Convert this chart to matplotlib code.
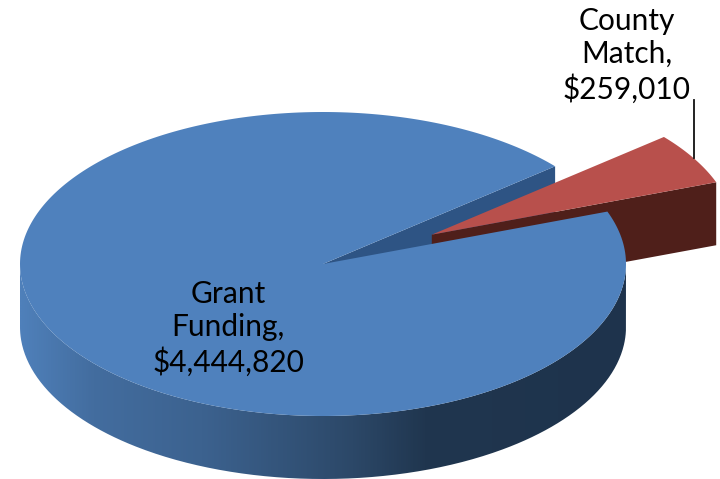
import numpy as np
import matplotlib
matplotlib.use("Agg")
import matplotlib.pyplot as plt
from matplotlib.colors import LinearSegmentedColormap
from matplotlib.patches import PathPatch, Polygon
from matplotlib.path import Path

# funding split
categories = ["Grant\nFunding", "County\nMatch"]
amounts = [4444820, 259010]

# pie geometry, in pixels
CX, CY = 323, 264
RX, RY = 303, 152
DEPTH = 63
START_ANGLE = 40
EXPLODE_X = 0.415
EXPLODE_Y = 0.385

plt.rcParams["font.family"] = ["Lato", "DejaVu Sans"]


def rim(theta_deg, ox=0.0, oy=0.0, drop=0.0):
    t = np.radians(theta_deg)
    return np.column_stack([CX + ox + RX * np.cos(t), CY + oy - RY * np.sin(t) + drop])


def wedge(a0, a1, ox=0.0, oy=0.0):
    arc = rim(np.linspace(a0, a1, 300), ox, oy)
    return np.vstack([[CX + ox, CY + oy], arc])


def wall(angle, ox=0.0, oy=0.0):
    # flat cut face running from the slice centre out to the rim
    p = rim(np.array([angle]), ox, oy)[0]
    c = np.array([CX + ox, CY + oy])
    return np.array([c, p, p + [0, DEPTH], c + [0, DEPTH]])


def fill_gradient(ax, verts, colors, stops, x0, x1, y0, y1, zorder):
    cmap = LinearSegmentedColormap.from_list("side", list(zip(stops, colors)))
    img = ax.imshow(np.linspace(0, 1, 512).reshape(1, -1), cmap=cmap, aspect="auto",
                    extent=[x0, x1, y1, y0], zorder=zorder, interpolation="bilinear")
    patch = PathPatch(Path(np.vstack([verts, verts[:1]])), transform=ax.transData,
                      facecolor="none", edgecolor="none")
    ax.add_patch(patch)
    img.set_clip_path(patch)


fig = plt.figure(figsize=(7.2, 4.79), dpi=100)
ax = fig.add_axes([0, 0, 1, 1])

sweep = 360 * amounts[1] / sum(amounts)
red_hi = START_ANGLE
red_lo = START_ANGLE - sweep
mid = np.radians((red_hi + red_lo) / 2)
ox = EXPLODE_X * RX * np.cos(mid)
oy = -EXPLODE_Y * RY * np.sin(mid)

# back to front: main cut face, red slice, then the main body over them
ax.add_patch(Polygon(wall(START_ANGLE), closed=True, fc="#2e5484", ec="none", zorder=1))
ax.add_patch(Polygon(wall(red_lo, ox, oy), closed=True, fc="#4f1f1a", ec="none", zorder=2))
ax.add_patch(Polygon(wedge(red_lo, red_hi, ox, oy), closed=True, fc="#b8504c", ec="none", zorder=3))

front = np.linspace(180, 360, 400)
side = np.vstack([rim(front), rim(front[::-1], drop=DEPTH)])
fill_gradient(ax, side,
              ["#4f80ba", "#436d9f", "#3c628f", "#2c4868", "#20364f", "#1e334c"],
              [0.0, 0.12, 0.30, 0.55, 0.67, 1.0],
              CX - RX, CX + RX, CY, CY + RY + DEPTH, zorder=4)

ax.add_patch(Polygon(wedge(START_ANGLE, 360 + red_lo), closed=True, fc="#4f81bd", ec="none", zorder=5))

# leader for the small slice
ax.plot([694, 694], [100, 158], color="#111111", lw=1.3, zorder=6)

ax.text(228, 328, f"{categories[0]},\n${amounts[0]:,}", ha="center", va="center",
        fontsize=21.5, color="black", linespacing=1.23, zorder=7)
ax.text(627, 55, f"{categories[1]},\n${amounts[1]:,}", ha="center", va="center",
        fontsize=21.5, color="black", linespacing=1.23, zorder=7)

ax.set_xlim(0, 720)
ax.set_ylim(479, 0)
ax.axis("off")
fig.savefig("out.png", dpi=100, facecolor="white")
